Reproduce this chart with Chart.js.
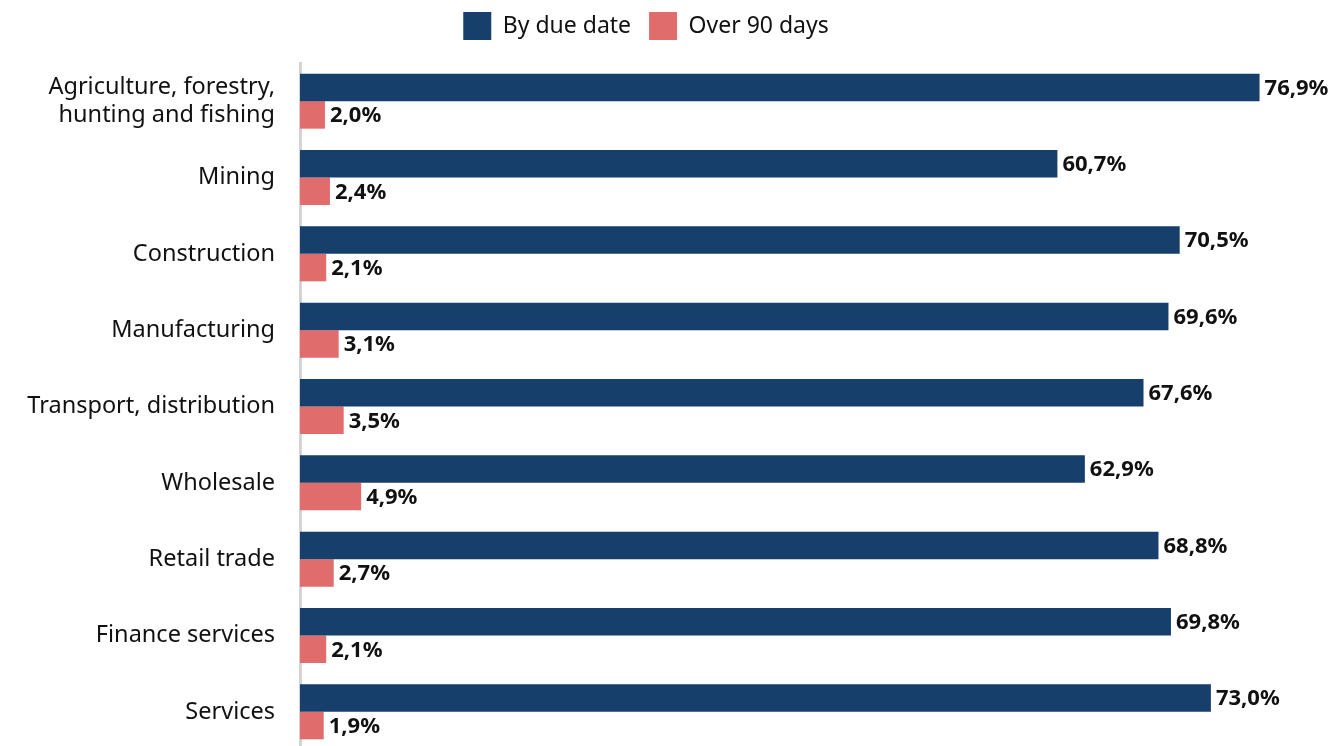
<!DOCTYPE html>
<html>
<head>
<meta charset="utf-8">
<script src="https://cdn.jsdelivr.net/npm/chart.js@4/dist/chart.umd.min.js"></script>
<style>
	html, body { margin: 0; padding: 0; background: #fff; overflow: hidden; }
	canvas { display: block; }
</style>
</head>
<body>
<canvas id="chart" width="1334" height="752"></canvas>
<script>
let categories = [
	['Agriculture, forestry,', 'hunting and fishing'],
	'Mining',
	'Construction',
	'Manufacturing',
	'Transport, distribution',
	'Wholesale',
	'Retail trade',
	'Finance services',
	'Services'
];
let byDueDate = [76.9, 60.7, 70.5, 69.6, 67.6, 62.9, 68.8, 69.8, 73.0];
let over90Days = [2.0, 2.4, 2.1, 3.1, 3.5, 4.9, 2.7, 2.1, 1.9];
let seriesNames = ['By due date', 'Over 90 days'];

let colours = {
	navy: '#173f6b',
	pink: '#e06c6c',
	axis: '#d4d4d4',
	text: '#111111'
};

let font = '"Noto Sans", "DejaVu Sans", sans-serif';

/**
 * Writes the value at the end of every bar, in bold, with a decimal comma.
 */
let barValues = {
	id: 'barValues',
	afterDatasetsDraw: function(chart) {
		let ctx = chart.ctx;

		ctx.save();
		ctx.font = 'bold 22px ' + font;
		ctx.fillStyle = colours.text;
		ctx.textAlign = 'left';
		ctx.textBaseline = 'middle';

		chart.data.datasets.forEach(function(set, i) {
			chart.getDatasetMeta(i).data.forEach(function(bar, j) {
				ctx.fillText(set.data[j].toFixed(1).replace('.', ',') + '%', bar.x + 5, bar.y + 1);
			});
		});

		ctx.restore();
	}
};

/**
 * Leave some more room under the legend.
 */
let legendGap = {
	id: 'legendGap',
	beforeInit: function(chart) {
		let fit = chart.legend.fit;

		chart.legend.fit = function() {
			fit.bind(chart.legend)();
			this.height += 13;
		};
	}
};

new Chart(document.getElementById('chart'), {
	type: 'bar',
	data: {
		labels: categories,
		datasets: [
			{ label: seriesNames[0], data: byDueDate, backgroundColor: colours.navy },
			{ label: seriesNames[1], data: over90Days, backgroundColor: colours.pink }
		]
	},
	options: {
		indexAxis: 'y',
		responsive: false,
		animation: false,
		datasets: {
			bar: { categoryPercentage: 0.72, barPercentage: 1 }
		},
		layout: {
			padding: { top: -6, right: 42, bottom: 2, left: 0 }
		},
		plugins: {
			legend: {
				position: 'top',
				labels: {
					boxWidth: 28,
					boxHeight: 28,
					padding: 18,
					color: colours.text,
					font: { family: font, size: 23 }
				}
			},
			tooltip: { enabled: false }
		},
		scales: {
			x: {
				display: false,
				min: 0,
				max: 79.5
			},
			y: {
				grid: { display: false, drawTicks: false },
				border: { display: true, color: colours.axis, width: 3 },
				ticks: {
					padding: 25,
					color: colours.text,
					font: { family: font, size: 23.5 }
				},
				afterFit: function(scale) {
					scale.width = 300;
					scale.paddingTop = 0;
					scale.paddingBottom = 0;
				}
			}
		}
	},
	plugins: [barValues, legendGap]
});
</script>
</body>
</html>
